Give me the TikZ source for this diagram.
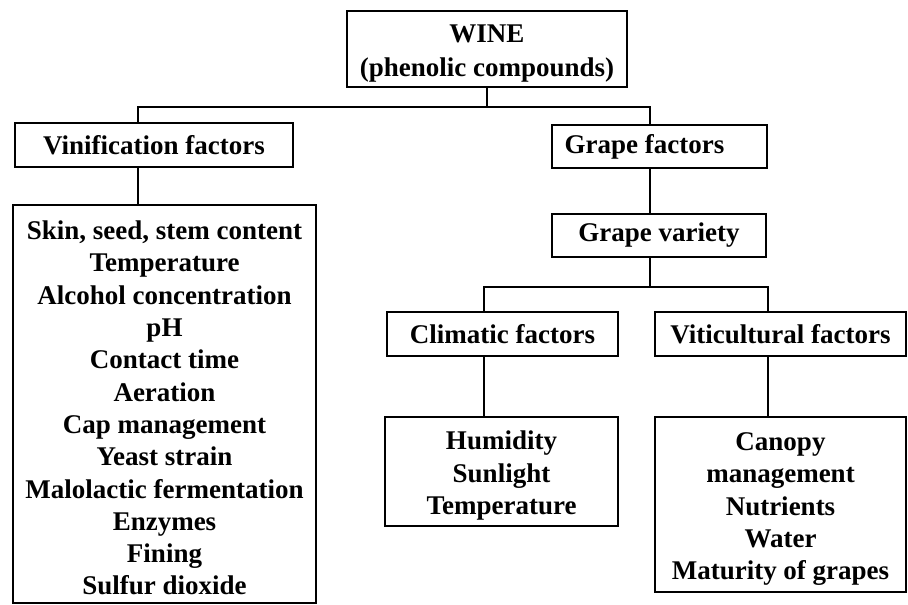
\documentclass[tikz,border=0pt]{standalone}
\usepackage{fontspec}
\setmainfont{Liberation Serif}
\usetikzlibrary{calc,positioning}
\newcommand{\topgap}{\rule{0pt}{27pt}}
\tikzset{
	box/.style={draw, line width=1.5pt, inner sep=0pt, align=center,
		font=\bfseries\fontsize{27}{32.3}\selectfont},
	link/.style={line width=1.4pt}
}

\begin{document}
\begin{tikzpicture}[x=1pt, y=-1pt]
	\useasboundingbox (0,0) rectangle (908,605);
	% top
	\node[box, minimum width=280pt, minimum height=76pt] (wine) at (487,49) {\topgap WINE\\[1.7pt](phenolic compounds)};
	\coordinate (busA) at (487,107);
	% vinification side
	\node[box, minimum width=278pt, minimum height=44pt] (vin) at (154,145) {Vinification factors};
	\node[box, minimum width=303pt, minimum height=398pt] (list) at (164.5,404) {\topgap Skin, seed, stem content\\Temperature\\Alcohol concentration\\pH\\Contact time\\Aeration\\Cap management\\Yeast strain\\Malolactic fermentation\\Enzymes\\Fining\\Sulfur dioxide};
	% grape side
	\node[box, minimum width=215pt, minimum height=43pt] (grape) at (659.5,146.5) {\hspace*{-30pt}Grape factors};
	\node[box, minimum width=214pt, minimum height=43pt] (variety) at (659,235.5) {Grape variety};
	\coordinate (busB) at (650,287);
	\node[box, minimum width=231pt, minimum height=44pt] (clim) at (502.5,334) {Climatic factors};
	\node[box, minimum width=251pt, minimum height=44pt] (viti) at (780.5,334) {Viticultural factors};
	\node[box, minimum width=233pt, minimum height=109pt] (hum) at (501.5,471.5) {\topgap Humidity\\Sunlight\\Temperature};
	\node[box, minimum width=251pt, minimum height=175pt] (can) at (780.5,504.5) {\topgap Canopy\\management\\Nutrients\\Water\\Maturity of grapes};
	% connectors
	\draw[link] (wine.south) -- (busA);
	\draw[link] ([xshift=-16pt]vin.north) |- (busA) -| ([xshift=-9.5pt]grape.north);
	\draw[link] ([xshift=-16pt]vin.south) -- ([xshift=-16pt]vin.south |- list.north);
	\draw[link] ([xshift=-9.5pt]grape.south) -- ([xshift=-9pt]variety.north);
	\draw[link] ([xshift=-9pt]variety.south) -- (busB);
	\draw[link] ([xshift=-18.5pt]clim.north) |- (busB) -| ([xshift=-12.5pt]viti.north);
	\draw[link] ([xshift=-18.5pt]clim.south) -- ([xshift=-18.5pt]clim.south |- hum.north);
	\draw[link] ([xshift=-12.5pt]viti.south) -- ([xshift=-12.5pt]viti.south |- can.north);
\end{tikzpicture}
\end{document}
